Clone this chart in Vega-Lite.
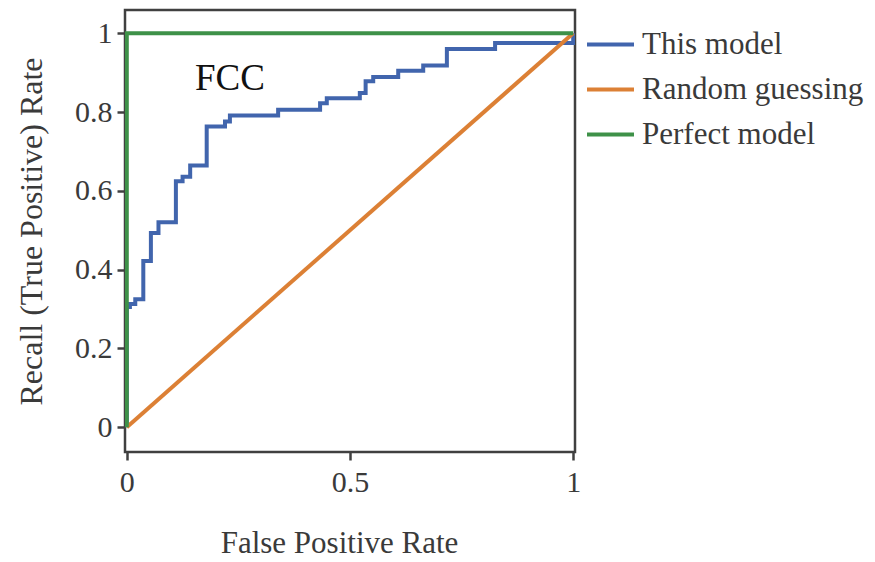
{
  "$schema": "https://vega.github.io/schema/vega-lite/v6.json",
  "width": 450,
  "height": 442,
  "autosize": {"type": "none"},
  "padding": {"left": 125, "top": 10, "right": 300, "bottom": 110},
  "background": "white",
  "config": {
    "view": {"stroke": "#404040", "strokeWidth": 2.5},
    "font": "Liberation Serif",
    "axis": {
      "labelFont": "Liberation Serif",
      "titleFont": "Liberation Serif",
      "labelColor": "#3a3a3a",
      "titleColor": "#3a3a3a",
      "titleFontWeight": "normal",
      "grid": false,
      "domain": false,
      "tickColor": "#404040",
      "tickWidth": 2.5,
      "tickSize": 8
    },
    "legend": {"labelFont": "Liberation Serif"}
  },
  "data": {
    "values": [
      {"series": "This model", "ord": 1, "fpr": 0, "tpr": 0},
      {"series": "This model", "ord": 2, "fpr": 0, "tpr": 0.305},
      {"series": "This model", "ord": 3, "fpr": 0.007, "tpr": 0.305},
      {"series": "This model", "ord": 4, "fpr": 0.007, "tpr": 0.313},
      {"series": "This model", "ord": 5, "fpr": 0.019, "tpr": 0.313},
      {"series": "This model", "ord": 6, "fpr": 0.019, "tpr": 0.325},
      {"series": "This model", "ord": 7, "fpr": 0.037, "tpr": 0.325},
      {"series": "This model", "ord": 8, "fpr": 0.037, "tpr": 0.422},
      {"series": "This model", "ord": 9, "fpr": 0.054, "tpr": 0.422},
      {"series": "This model", "ord": 10, "fpr": 0.054, "tpr": 0.493},
      {"series": "This model", "ord": 11, "fpr": 0.071, "tpr": 0.493},
      {"series": "This model", "ord": 12, "fpr": 0.071, "tpr": 0.52},
      {"series": "This model", "ord": 13, "fpr": 0.11, "tpr": 0.52},
      {"series": "This model", "ord": 14, "fpr": 0.11, "tpr": 0.624},
      {"series": "This model", "ord": 15, "fpr": 0.125, "tpr": 0.624},
      {"series": "This model", "ord": 16, "fpr": 0.125, "tpr": 0.636},
      {"series": "This model", "ord": 17, "fpr": 0.142, "tpr": 0.636},
      {"series": "This model", "ord": 18, "fpr": 0.142, "tpr": 0.664},
      {"series": "This model", "ord": 19, "fpr": 0.179, "tpr": 0.664},
      {"series": "This model", "ord": 20, "fpr": 0.179, "tpr": 0.763},
      {"series": "This model", "ord": 21, "fpr": 0.22, "tpr": 0.763},
      {"series": "This model", "ord": 22, "fpr": 0.22, "tpr": 0.776},
      {"series": "This model", "ord": 23, "fpr": 0.231, "tpr": 0.776},
      {"series": "This model", "ord": 24, "fpr": 0.231, "tpr": 0.791},
      {"series": "This model", "ord": 25, "fpr": 0.339, "tpr": 0.791},
      {"series": "This model", "ord": 26, "fpr": 0.339, "tpr": 0.806},
      {"series": "This model", "ord": 27, "fpr": 0.433, "tpr": 0.806},
      {"series": "This model", "ord": 28, "fpr": 0.433, "tpr": 0.822},
      {"series": "This model", "ord": 29, "fpr": 0.448, "tpr": 0.822},
      {"series": "This model", "ord": 30, "fpr": 0.448, "tpr": 0.835},
      {"series": "This model", "ord": 31, "fpr": 0.522, "tpr": 0.835},
      {"series": "This model", "ord": 32, "fpr": 0.522, "tpr": 0.848},
      {"series": "This model", "ord": 33, "fpr": 0.535, "tpr": 0.848},
      {"series": "This model", "ord": 34, "fpr": 0.535, "tpr": 0.878},
      {"series": "This model", "ord": 35, "fpr": 0.552, "tpr": 0.878},
      {"series": "This model", "ord": 36, "fpr": 0.552, "tpr": 0.889},
      {"series": "This model", "ord": 37, "fpr": 0.608, "tpr": 0.889},
      {"series": "This model", "ord": 38, "fpr": 0.608, "tpr": 0.905},
      {"series": "This model", "ord": 39, "fpr": 0.664, "tpr": 0.905},
      {"series": "This model", "ord": 40, "fpr": 0.664, "tpr": 0.918},
      {"series": "This model", "ord": 41, "fpr": 0.717, "tpr": 0.918},
      {"series": "This model", "ord": 42, "fpr": 0.717, "tpr": 0.96},
      {"series": "This model", "ord": 43, "fpr": 0.825, "tpr": 0.96},
      {"series": "This model", "ord": 44, "fpr": 0.825, "tpr": 0.975},
      {"series": "This model", "ord": 45, "fpr": 1, "tpr": 0.975},
      {"series": "This model", "ord": 46, "fpr": 1, "tpr": 1},
      {"series": "Random guessing", "ord": 1, "fpr": 0, "tpr": 0},
      {"series": "Random guessing", "ord": 2, "fpr": 1, "tpr": 1},
      {"series": "Perfect model", "ord": 1, "fpr": 0, "tpr": 0},
      {"series": "Perfect model", "ord": 2, "fpr": 0, "tpr": 1},
      {"series": "Perfect model", "ord": 3, "fpr": 1, "tpr": 1}
    ]
  },
  "layer": [
    {
      "transform": [{"filter": "datum.series === 'This model'"}],
      "mark": {"type": "line", "strokeWidth": 4, "clip": true},
      "encoding": {
        "x": {"field": "fpr", "type": "quantitative"},
        "y": {"field": "tpr", "type": "quantitative"},
        "order": {"field": "ord", "type": "quantitative"},
        "color": {"field": "series", "type": "nominal"}
      }
    },
    {
      "transform": [{"filter": "datum.series === 'Random guessing'"}],
      "mark": {"type": "line", "strokeWidth": 4, "clip": true},
      "encoding": {
        "x": {"field": "fpr", "type": "quantitative"},
        "y": {"field": "tpr", "type": "quantitative"},
        "order": {"field": "ord", "type": "quantitative"},
        "color": {"field": "series", "type": "nominal"}
      }
    },
    {
      "transform": [{"filter": "datum.series === 'Perfect model'"}],
      "mark": {"type": "line", "strokeWidth": 4, "clip": true},
      "encoding": {
        "x": {
          "field": "fpr",
          "type": "quantitative",
          "scale": {"domain": [-0.004, 1.004], "nice": false, "zero": false},
          "axis": {
            "values": [0, 0.5, 1],
            "format": "~g",
            "title": "False Positive Rate",
            "labelFont": "Liberation Serif",
            "titleFont": "Liberation Serif",
            "labelFontSize": 30,
            "titleFontSize": 31,
            "labelPadding": 7,
            "titlePadding": 31,
            "titleX": 214
          }
        },
        "y": {
          "field": "tpr",
          "type": "quantitative",
          "scale": {"domain": [-0.063, 1.059], "nice": false, "zero": false},
          "axis": {
            "values": [0, 0.2, 0.4, 0.6, 0.8, 1],
            "format": "~g",
            "title": "Recall (True Positive) Rate",
            "labelFont": "Liberation Serif",
            "titleFont": "Liberation Serif",
            "labelFontSize": 30,
            "titleFontSize": 32,
            "labelPadding": 5,
            "titlePadding": 26
          }
        },
        "order": {"field": "ord", "type": "quantitative"},
        "color": {
          "field": "series",
          "type": "nominal",
          "scale": {
            "domain": ["This model", "Random guessing", "Perfect model"],
            "range": ["#4165ad", "#dc8035", "#3e9148"]
          },
          "legend": {
            "title": null,
            "orient": "none",
            "legendX": 460,
            "legendY": 9,
            "symbolType": "stroke",
            "symbolSize": 2209,
            "symbolStrokeWidth": 4,
            "labelFont": "Liberation Serif",
            "labelFontSize": 31,
            "labelColor": "#3a3a3a",
            "labelOffset": 6,
            "rowPadding": 4,
            "labelLimit": 400
          }
        }
      }
    },
    {
      "data": {"values": [{"label": "FCC", "x": 0.231, "y": 0.856}]},
      "mark": {"type": "text", "font": "Liberation Serif", "fontSize": 37, "color": "#111111", "align": "center", "baseline": "alphabetic"},
      "encoding": {
        "x": {"field": "x", "type": "quantitative"},
        "y": {"field": "y", "type": "quantitative"},
        "text": {"field": "label"}
      }
    }
  ]
}
